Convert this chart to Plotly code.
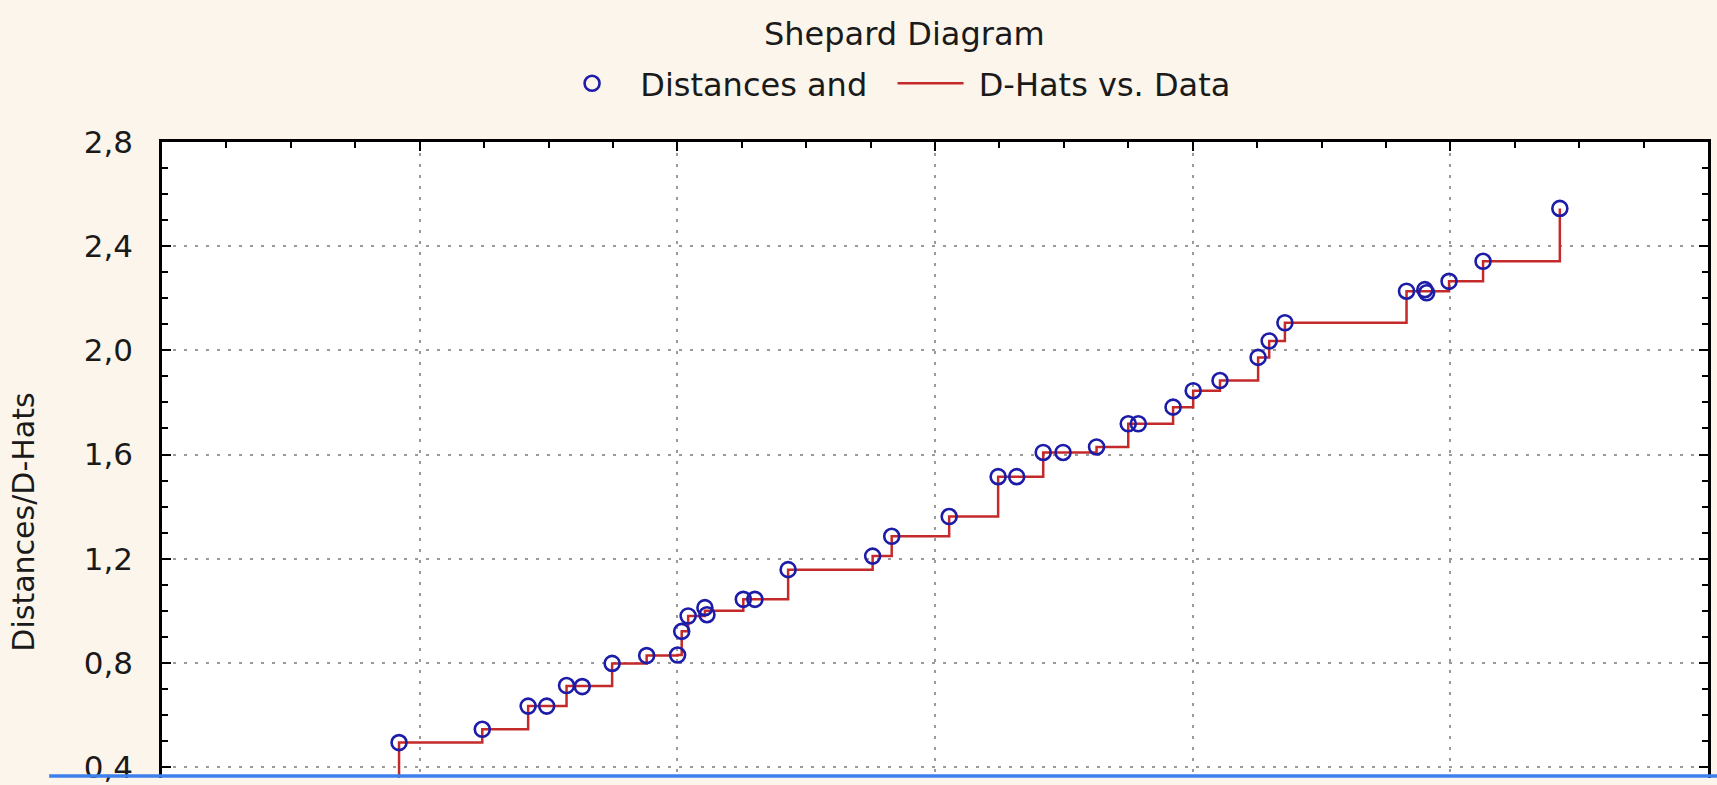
import plotly.graph_objects as go

# ---- data ----
data_x = [0.60, 0.920, 1.243, 1.421, 1.493, 1.570, 1.631, 1.747, 1.881, 2.001, 2.017,
          2.042, 2.107, 2.115, 2.256, 2.301, 2.430, 2.758, 2.832, 3.055, 3.245,
          3.317, 3.420, 3.497, 3.627, 3.750, 3.789, 3.924, 4.002, 4.106, 4.254,
          4.297, 4.358, 4.830, 4.901, 4.908, 4.995, 5.127, 5.425]
distances = [0.30, 0.494, 0.545, 0.634, 0.634, 0.713, 0.709, 0.798, 0.828, 0.830, 0.921,
             0.980, 1.012, 0.985, 1.044, 1.044, 1.158, 1.210, 1.286, 1.362, 1.515,
             1.515, 1.608, 1.608, 1.629, 1.718, 1.718, 1.782, 1.845, 1.884, 1.973,
             2.036, 2.106, 2.227, 2.233, 2.221, 2.265, 2.342, 2.545]
d_hats = [0.30, 0.494, 0.545, 0.634, 0.634, 0.711, 0.711, 0.798, 0.828, 0.830, 0.921,
          0.980, 1.000, 1.000, 1.044, 1.044, 1.158, 1.210, 1.286, 1.362, 1.515,
          1.515, 1.608, 1.608, 1.629, 1.718, 1.718, 1.782, 1.845, 1.884, 1.973,
          2.036, 2.106, 2.227, 2.227, 2.227, 2.265, 2.342, 2.545]

y_ticks = [0.4, 0.8, 1.2, 1.6, 2.0, 2.4, 2.8]

TXT = "#1a1a1a"
FONT = "DejaVu Sans"
NB = "\u00a0"

fig = go.Figure()
fig.add_trace(go.Scatter(
    x=data_x, y=d_hats, mode="lines", name=NB + "D-Hats vs. Data",
    line=dict(color="#c42a2a", width=2.5, shape="hv"),
))
fig.add_trace(go.Scatter(
    x=data_x, y=distances, mode="markers", name=NB + "Distances and" + NB + NB,
    marker=dict(symbol="circle-open", size=15, color="#1c1ca8", line=dict(width=2.6, color="#1c1ca8")),
))

fig.update_layout(
    width=1717, height=785,
    margin=dict(l=162, r=9, t=142, b=0),
    paper_bgcolor="#FCF5EC", plot_bgcolor="#FFFFFF",
    separators=",.",
    font=dict(family=FONT, color=TXT, size=30),
    showlegend=True,
    legend=dict(orientation="h", x=0.2536, y=1.092, xanchor="left", yanchor="middle",
                traceorder="reversed", itemwidth=66, bgcolor="rgba(0,0,0,0)",
                font=dict(size=32, family=FONT, color=TXT)),
    xaxis=dict(range=[0, 6], dtick=1, tick0=0, showticklabels=False, side="top",
               showgrid=True, gridcolor="#9a9a9a", griddash="3px,8px", gridwidth=2,
               zeroline=False, showline=True, linecolor="#000", linewidth=2.5, mirror=False,
               ticks="inside", ticklen=9, tickwidth=2, tickcolor="#000",
               minor=dict(dtick=0.25, ticks="inside", ticklen=6, tickwidth=2, tickcolor="#000", showgrid=False)),
    yaxis=dict(range=[0.358, 2.8], tickvals=y_ticks, tickformat=".1f",
               showgrid=True, gridcolor="#9a9a9a", griddash="3px,8px", gridwidth=2,
               zeroline=False, showline=True, linecolor="#000", linewidth=2.5, mirror="ticks",
               ticks="inside", ticklen=9, tickwidth=2, tickcolor="#000",
               ticklabelstandoff=20, ticklabeloverflow="allow",
               tickfont=dict(size=31, family=FONT, color=TXT),
               minor=dict(dtick=0.1, tick0=0.4, ticks="inside", ticklen=6, tickwidth=2, tickcolor="#000", showgrid=False)),
    annotations=[
        dict(text="Shepard Diagram", xref="paper", yref="paper", x=0.48, y=1.1705,
             xanchor="center", yanchor="middle", showarrow=False,
             font=dict(size=32, family=FONT, color=TXT)),
        dict(text="Distances/D-Hats", xref="paper", yref="paper", x=-0.0893, y=0.403,
             xanchor="center", yanchor="middle", textangle=-90, showarrow=False,
             font=dict(size=30, family=FONT, color=TXT)),
    ],
    shapes=[
        dict(type="line", xref="paper", yref="paper", x0=-0.073, x1=1.006, y0=0.003, y1=0.003,
             line=dict(color="#3c80ee", width=3.5), layer="above"),
    ],
)

fig.write_html("out.html", config={"displayModeBar": False},
               post_script="document.body.style.margin='0';document.body.style.overflow='hidden';")
